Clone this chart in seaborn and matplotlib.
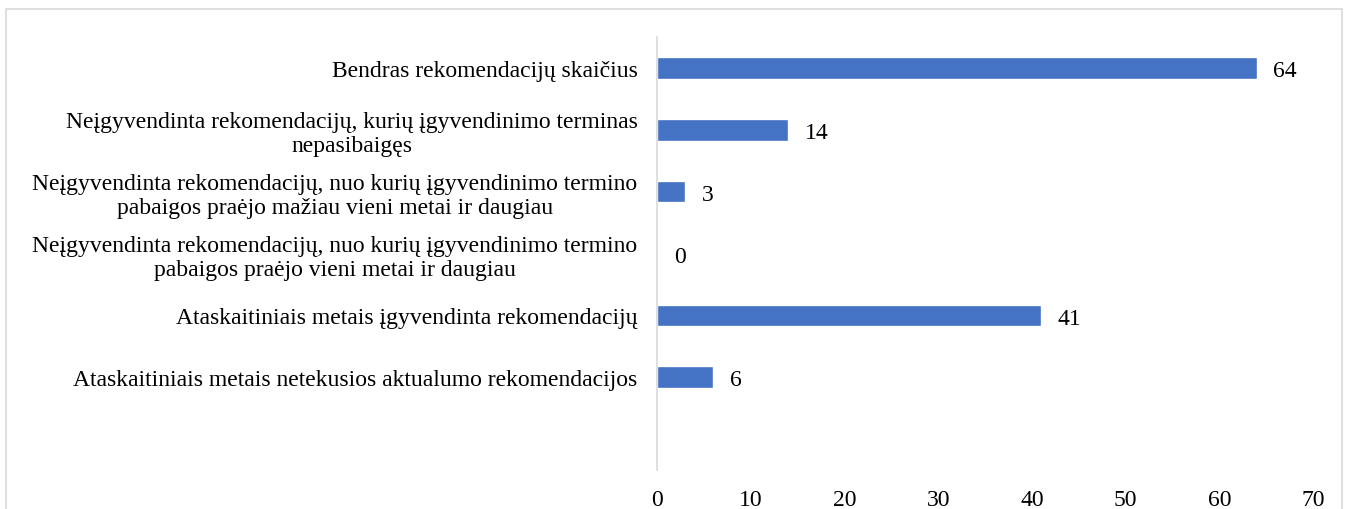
import matplotlib
matplotlib.use('Agg')
import matplotlib.pyplot as plt
import seaborn as sns
import pandas as pd
from matplotlib.patches import Rectangle

categories = [
    "Bendras rekomendacijų skaičius",
    "Neįgyvendinta rekomendacijų, kurių įgyvendinimo terminas\nnepasibaigęs",
    "Neįgyvendinta rekomendacijų, nuo kurių įgyvendinimo termino\npabaigos praėjo mažiau vieni metai ir daugiau",
    "Neįgyvendinta rekomendacijų, nuo kurių įgyvendinimo termino\npabaigos praėjo vieni metai ir daugiau",
    "Ataskaitiniais metais įgyvendinta rekomendacijų",
    "Ataskaitiniais metais netekusios aktualumo rekomendacijos",
]
values = [64, 14, 3, 0, 41, 6]
x_ticks = [0, 10, 20, 30, 40, 50, 60, 70]

df = pd.DataFrame({"category": categories, "value": values})

sns.set_style("white")
plt.rcParams['font.family'] = ['Liberation Serif', 'DejaVu Serif']
FS = 17

fig = plt.figure(figsize=(13.45, 5.10), dpi=100)
ax = fig.add_axes([657 / 1345, 1 - 471 / 510, (1313 - 657) / 1345, (471 - 38) / 510])

sns.barplot(data=df, x="value", y="category", orient="h", color="#4472C4",
            saturation=1, width=0.35, ax=ax)

for c in ax.containers:
    labels = ax.bar_label(c, padding=12, fontsize=FS, color="#000000")
    for t in labels:
        t.xyann = (12, -2)  # nudge down so digits sit on the bar centre

ax.set_xlim(0, 70)
ax.set_ylim(6.5, -0.5)
ax.set_xticks(x_ticks)
ax.set_xlabel("")
ax.set_ylabel("")
ax.tick_params(axis="both", length=0, labelsize=FS, colors="#000000")
ax.tick_params(axis="x", pad=14)
ax.tick_params(axis="y", pad=14)
for lab in ax.get_yticklabels():
    lab.set_multialignment("center")

for side in ["top", "right", "bottom"]:
    ax.spines[side].set_visible(False)
ax.spines["left"].set_color("#d9d9d9")
ax.spines["left"].set_linewidth(1.2)

# outer chart border
fig.patches.append(Rectangle((6 / 1345, -0.05), (1342 - 6) / 1345, 1.05 - 10 / 510,
                             transform=fig.transFigure, fill=False,
                             edgecolor="#d9d9d9", linewidth=1.2))

fig.savefig("out.png", dpi=100)
